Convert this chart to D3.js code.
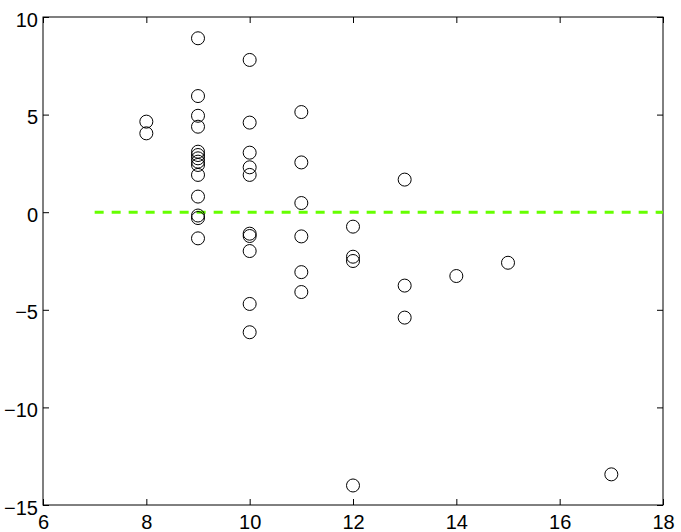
<!DOCTYPE html>
<html>
<head>
<meta charset="utf-8">
<script src="https://cdn.jsdelivr.net/npm/d3@7"></script>
<style>
  body { margin: 0; background: #fff; }
  svg { display: block; }
  .tick text { font-family: "Liberation Sans", Arial, sans-serif; font-size: 20px; fill: #000; }
</style>
</head>
<body>
<div id="plot"></div>
<script>
// Width and height
var w = 681;
var h = 532;
var margin = { top: 17, right: 18, bottom: 27, left: 43 };

// Data
var xs = [8, 8,
	9, 9, 9, 9, 9, 9, 9, 9, 9, 9, 9, 9, 9, 9,
	10, 10, 10, 10, 10, 10, 10, 10, 10, 10,
	11, 11, 11, 11, 11, 11,
	12, 12, 12, 12,
	13, 13, 13,
	14, 15, 17];
var ys = [4.64, 4.04,
	8.91, 5.95, 4.94, 4.38, 3.1, 2.93, 2.76, 2.59, 2.42, 1.91, 0.8, -0.17, -0.3, -1.34,
	7.8, 4.59, 3.05, 2.3, 1.91, -1.1, -1.22, -1.99, -4.7, -6.15,
	5.13, 2.55, 0.47, -1.24, -3.07, -4.09,
	-0.74, -2.28, -2.5, -14.0,
	1.67, -3.76, -5.4,
	-3.27, -2.59, -13.43];
var refX = [7, 18];
var refY = [0, 0];
var xTicks = [6, 8, 10, 12, 14, 16, 18];
var yTicks = [-15, -10, -5, 0, 5, 10];

var x = d3.scaleLinear().domain([6, 18]).range([margin.left, w - margin.right]);
var y = d3.scaleLinear().domain([-15, 10]).range([h - margin.bottom, margin.top]);

var fmt = function(d) { return d < 0 ? "\u2212" + Math.abs(d) : String(d); };

var svg = d3.select("#plot")
	.append("svg")
	.attr("width", w)
	.attr("height", h);

// box
svg.append("rect")
	.attr("x", x(6))
	.attr("y", y(10))
	.attr("width", x(18) - x(6))
	.attr("height", y(-15) - y(10))
	.style("fill", "none")
	.style("stroke", "#000")
	.style("stroke-width", 1);

// axes, ticks pointing inward
var bottomAxis = svg.append("g")
	.attr("transform", "translate(0," + y(-15) + ")")
	.call(d3.axisBottom(x).tickValues(xTicks).tickSizeInner(-6).tickSizeOuter(0).tickPadding(7).tickFormat(fmt));
var topAxis = svg.append("g")
	.attr("transform", "translate(0," + y(10) + ")")
	.call(d3.axisTop(x).tickValues(xTicks).tickSizeInner(-6).tickSizeOuter(0).tickFormat(""));
var leftAxis = svg.append("g")
	.attr("transform", "translate(" + x(6) + ",0)")
	.call(d3.axisLeft(y).tickValues(yTicks).tickSizeInner(-6).tickSizeOuter(0).tickPadding(5).tickFormat(fmt));
var rightAxis = svg.append("g")
	.attr("transform", "translate(" + x(18) + ",0)")
	.call(d3.axisRight(y).tickValues(yTicks).tickSizeInner(-6).tickSizeOuter(0).tickFormat(""));

svg.selectAll(".domain").remove();
svg.selectAll(".tick line").style("stroke", "#000");
bottomAxis.selectAll("text").attr("dy", "0.87em");
leftAxis.selectAll("text").attr("dy", "0.45em");

// dashed zero line
svg.append("line")
	.attr("x1", x(refX[0]))
	.attr("y1", y(refY[0]))
	.attr("x2", x(refX[1]))
	.attr("y2", y(refY[1]))
	.style("stroke", "#66ff00")
	.style("stroke-width", 3)
	.style("stroke-dasharray", "9,8");

// points
svg.selectAll("circle.pt")
	.data(xs)
	.enter()
	.append("circle")
	.attr("class", "pt")
	.attr("cx", function(d) { return x(d); })
	.attr("cy", function(d, i) { return y(ys[i]); })
	.attr("r", 6.5)
	.style("fill", "none")
	.style("stroke", "#000")
	.style("stroke-width", 1);
</script>
</body>
</html>
